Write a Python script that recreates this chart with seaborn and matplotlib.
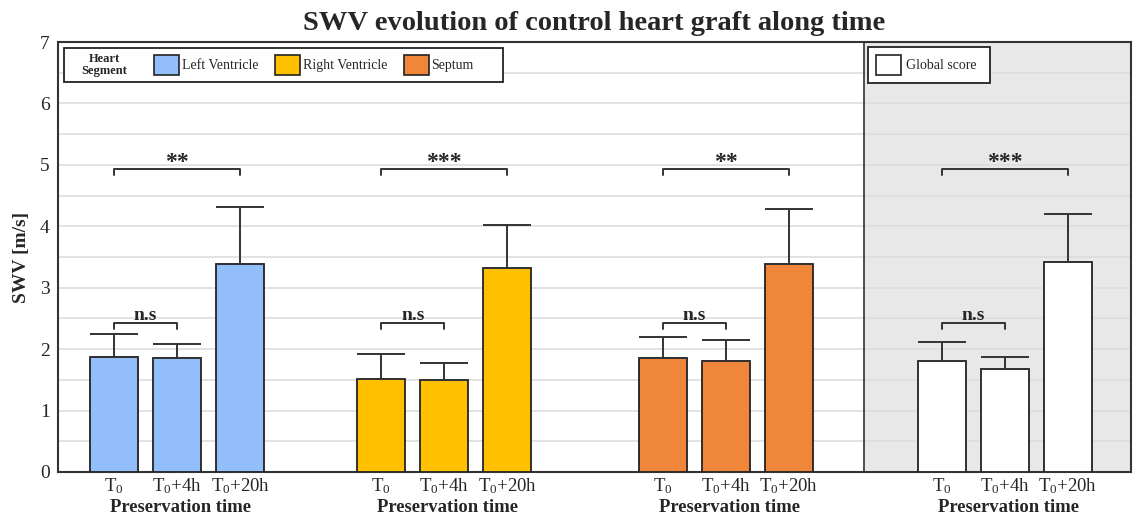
import matplotlib
matplotlib.use("Agg")
import matplotlib.pyplot as plt
import matplotlib.patches as mpatches
import pandas as pd
import seaborn as sns

# values
segments = ["Left Ventricle", "Right Ventricle", "Septum", "Global score"]
time_labels = ["T$_0$", "T$_0$+4h", "T$_0$+20h"]
lv_mean = [1.88, 1.86, 3.38]
lv_upper = [2.24, 2.08, 4.32]
rv_mean = [1.52, 1.50, 3.32]
rv_upper = [1.92, 1.77, 4.02]
sep_mean = [1.85, 1.81, 3.38]
sep_upper = [2.20, 2.15, 4.28]
glob_mean = [1.80, 1.68, 3.42]
glob_upper = [2.12, 1.87, 4.20]
sig_far = ["**", "***", "**", "***"]
sig_near = ["n.s", "n.s", "n.s", "n.s"]

colors = {"Left Ventricle": "#92bffc", "Right Ventricle": "#ffc000",
          "Septum": "#f0863a", "Global score": "#ffffff"}

# layout of the four groups along x
group_start = [0, 4.24, 8.71, 13.14]

means = [lv_mean, rv_mean, sep_mean, glob_mean]
uppers = [lv_upper, rv_upper, sep_upper, glob_upper]
rows = []
for g, seg in enumerate(segments):
    for i, t in enumerate(time_labels):
        rows.append({"segment": seg, "time": t, "pos": group_start[g] + i,
                     "swv": means[g][i], "upper": uppers[g][i]})
df = pd.DataFrame(rows)

sns.set_style("white")
plt.rcParams["font.family"] = ["Liberation Serif", "DejaVu Serif"]
plt.rcParams["mathtext.default"] = "regular"

fig = plt.figure(figsize=(11.33, 5.2), dpi=100)
ax = fig.add_axes([58 / 1133, 48 / 520, 1073 / 1133, 430 / 520])

divider = 11.9
ax.axvspan(divider, 17, color="#e8e8e8", zorder=0)
ax.axvline(divider, color="#333333", lw=1.2, zorder=2)

sns.barplot(data=df, x="pos", y="swv", hue="segment", palette=colors,
            hue_order=segments, native_scale=True, dodge=False, width=0.76,
            saturation=1, edgecolor="#222222", linewidth=1.3, errorbar=None,
            legend=False, ax=ax, zorder=3)

ax.errorbar(df["pos"], df["swv"], yerr=[[0] * len(df), df["upper"] - df["swv"]],
            fmt="none", ecolor="#333333", elinewidth=1.4, capsize=17.3,
            capthick=1.4, zorder=4)

# significance brackets
for g in range(len(segments)):
    x0 = group_start[g]
    for xa, xb, h, lab, fs, dy in [(x0, x0 + 2, 4.93, sig_far[g], 17, -0.06),
                                   (x0, x0 + 1, 2.43, sig_near[g], 14, -0.02)]:
        ax.plot([xa, xa, xb, xb], [h - 0.1, h, h, h - 0.1], color="#333333",
                lw=1.4, zorder=4)
        ax.text((xa + xb) / 2, h + dy, lab, ha="center", va="bottom",
                fontsize=fs, fontweight="bold")
    ax.text(x0 + 1.05, -0.083, "Preservation time", transform=ax.get_xaxis_transform(),
            ha="center", va="center", fontsize=13.4, fontweight="bold")

ax.set_xlim(-0.89, 16.14)
ax.set_ylim(0, 7)
ax.set_yticks(range(0, 8))
ax.set_yticks([i + 0.5 for i in range(7)], minor=True)
ax.grid(axis="y", which="both", color="#dddddd", lw=1.2)
ax.set_axisbelow(True)
ax.set_xticks(df["pos"], list(df["time"]))
ax.tick_params(axis="x", length=0, labelsize=13.5, pad=3)
ax.tick_params(axis="y", length=0, labelsize=14, pad=6)
ax.tick_params(axis="y", which="minor", length=0)
ax.set_xlabel("")
ax.set_ylabel("SWV [m/s]", fontsize=14, fontweight="bold", labelpad=7)
for sp in ax.spines.values():
    sp.set_visible(True)
    sp.set_color("#333333")
    sp.set_linewidth(1.5)

ax.set_title("SWV evolution of control heart graft along time", fontsize=20.5,
             fontweight="bold", pad=9)

# legend frames drawn by hand, entries from frameless legends
for x0, x1, y0, y1 in [(0.0056, 0.4147, 0.907, 0.986), (0.7549, 0.8686, 0.905, 0.988)]:
    ax.add_patch(mpatches.Rectangle((x0, y0), x1 - x0, y1 - y0, transform=ax.transAxes,
                                    fc="white", ec="#222222", lw=1.3, zorder=5))
ax.text(0.0433, 0.9465, "Heart\nSegment", transform=ax.transAxes, ha="center",
        va="center", multialignment="center", fontsize=9, fontweight="bold",
        linespacing=1.1, zorder=6)

handles = [mpatches.Patch(fc=colors[s], ec="#222222", lw=1.2) for s in segments[:3]]
leg1 = ax.legend(handles, segments[:3], ncol=3, loc="center left",
                 bbox_to_anchor=(0.0895, 0.9465), fontsize=10,
                 handlelength=1.8, handleheight=1.9, handletextpad=0.2,
                 columnspacing=1.2, frameon=False, borderpad=0.0,
                 borderaxespad=0.0)
leg1.set_zorder(7)
ax.add_artist(leg1)
leg2 = ax.legend([mpatches.Patch(fc="white", ec="#222222", lw=1.2)], ["Global score"],
                 loc="center left", bbox_to_anchor=(0.7623, 0.9465), fontsize=10,
                 handlelength=1.8, handleheight=1.9, handletextpad=0.35,
                 frameon=False, borderpad=0.0, borderaxespad=0.0)
leg2.set_zorder(7)

fig.savefig("out.png", dpi=100)
